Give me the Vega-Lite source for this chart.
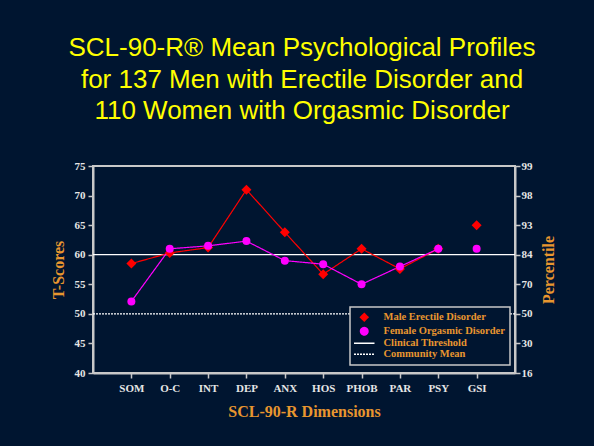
{
  "$schema": "https://vega.github.io/schema/vega-lite/v6.json",
  "width": 422,
  "height": 207,
  "autosize": {"type": "none"},
  "padding": {"left": 93, "top": 166, "right": 79, "bottom": 73},
  "background": "#001530",
  "title": {
    "text": ["SCL-90-R® Mean Psychological Profiles", "for 137 Men with Erectile Disorder and", "110 Women with Orgasmic Disorder"],
    "font": "Liberation Sans",
    "fontSize": 26,
    "fontWeight": "normal",
    "color": "#ffff00",
    "lineHeight": 31.5,
    "anchor": "middle",
    "dx": -2,
    "offset": 36
  },
  "datasets": {
    "profiles": [
      {"dim": "SOM", "series": "Male Erectile Disorder", "t": 58.5, "seg": "a"},
      {"dim": "O-C", "series": "Male Erectile Disorder", "t": 60.3, "seg": "a"},
      {"dim": "INT", "series": "Male Erectile Disorder", "t": 61.2, "seg": "a"},
      {"dim": "DEP", "series": "Male Erectile Disorder", "t": 71.0, "seg": "a"},
      {"dim": "ANX", "series": "Male Erectile Disorder", "t": 63.8, "seg": "a"},
      {"dim": "HOS", "series": "Male Erectile Disorder", "t": 56.7, "seg": "a"},
      {"dim": "PHOB", "series": "Male Erectile Disorder", "t": 61.0, "seg": "a"},
      {"dim": "PAR", "series": "Male Erectile Disorder", "t": 57.6, "seg": "a"},
      {"dim": "PSY", "series": "Male Erectile Disorder", "t": 61.0, "seg": "a"},
      {"dim": "GSI", "series": "Male Erectile Disorder", "t": 65.0, "seg": "b"},
      {"dim": "SOM", "series": "Female Orgasmic Disorder", "t": 52.1, "seg": "a"},
      {"dim": "O-C", "series": "Female Orgasmic Disorder", "t": 61.0, "seg": "a"},
      {"dim": "INT", "series": "Female Orgasmic Disorder", "t": 61.5, "seg": "a"},
      {"dim": "DEP", "series": "Female Orgasmic Disorder", "t": 62.3, "seg": "a"},
      {"dim": "ANX", "series": "Female Orgasmic Disorder", "t": 59.0, "seg": "a"},
      {"dim": "HOS", "series": "Female Orgasmic Disorder", "t": 58.4, "seg": "a"},
      {"dim": "PHOB", "series": "Female Orgasmic Disorder", "t": 55.0, "seg": "a"},
      {"dim": "PAR", "series": "Female Orgasmic Disorder", "t": 58.0, "seg": "a"},
      {"dim": "PSY", "series": "Female Orgasmic Disorder", "t": 61.0, "seg": "a"},
      {"dim": "GSI", "series": "Female Orgasmic Disorder", "t": 61.0, "seg": "b"}
    ],
    "refs": [
      {"series": "Clinical Threshold", "t": 60},
      {"series": "Community Mean", "t": 50}
    ]
  },
  "config": {
    "view": {"stroke": "#c8c8c8", "strokeWidth": 2},
    "axis": {
      "domainColor": "#c8c8c8",
      "domainWidth": 2,
      "tickColor": "#c8c8c8",
      "tickWidth": 1.5,
      "tickSize": 5,
      "grid": false,
      "labelOverlap": false,
      "labelFont": "Liberation Serif",
      "labelFontWeight": "bold",
      "labelFontSize": 11,
      "labelColor": "#e6e6e6",
      "titleFont": "Liberation Serif",
      "titleFontWeight": "bold",
      "titleFontSize": 16,
      "titleColor": "#e8962f"
    },
    "legend": {
      "orient": "none",
      "legendX": 257,
      "legendY": 141,
      "fillColor": "#001530",
      "strokeColor": "#c8c8c8",
      "strokeWidth": 1.5,
      "padding": 5,
      "rowPadding": 0,
      "symbolOffset": 4,
      "labelOffset": 14,
      "labelFont": "Liberation Serif",
      "labelFontWeight": "bold",
      "labelFontSize": 10.5,
      "labelColor": "#e8962f",
      "symbolStrokeWidth": 1.5
    }
  },
  "resolve": {"scale": {"y": "independent"}},
  "layer": [
    {
      "layer": [
        {
          "data": {"name": "refs"},
          "mark": {"type": "rule", "strokeWidth": 1.2},
          "encoding": {
            "y": {"field": "t", "type": "quantitative", "scale": {"domain": [40, 75]},
              "axis": {"title": "T-Scores", "values": [40, 45, 50, 55, 60, 65, 70, 75], "labelPadding": 3, "titlePadding": 8}},
            "color": {"field": "series", "type": "nominal",
              "scale": {"domain": ["Male Erectile Disorder", "Female Orgasmic Disorder", "Clinical Threshold", "Community Mean"],
                        "range": ["#ff0000", "#ff00ff", "#ffffff", "#ffffff"]},
              "legend": {"title": null, "symbolSize": {"expr": "datum.value == 'Clinical Threshold' || datum.value == 'Community Mean' ? 420 : 55"}}},
            "strokeDash": {"field": "series", "type": "nominal",
              "scale": {"domain": ["Male Erectile Disorder", "Female Orgasmic Disorder", "Clinical Threshold", "Community Mean"],
                        "range": [[1, 0], [1, 0], [1, 0], [2, 1]]},
              "legend": {"title": null}}
          }
        },
        {
          "data": {"name": "profiles"},
          "mark": {"type": "line", "strokeWidth": 1.2},
          "encoding": {
            "x": {"field": "dim", "type": "nominal",
              "scale": {"type": "point", "padding": 1, "domain": ["SOM", "O-C", "INT", "DEP", "ANX", "HOS", "PHOB", "PAR", "PSY", "GSI"]},
              "axis": {"title": "SCL-90-R Dimensions", "labelAngle": 0, "labelPadding": 4, "titlePadding": 10}},
            "y": {"field": "t", "type": "quantitative",
              "axis": {"title": "T-Scores", "values": [40, 45, 50, 55, 60, 65, 70, 75], "labelPadding": 3, "titlePadding": 8}},
            "detail": {"field": "seg"},
            "color": {"field": "series", "type": "nominal"},
            "strokeDash": {"field": "series", "type": "nominal"}
          }
        },
        {
          "data": {"name": "profiles"},
          "transform": [{"filter": "datum.series == 'Male Erectile Disorder'"}],
          "mark": {"type": "point", "filled": true, "opacity": 1, "size": 100},
          "encoding": {
            "x": {"field": "dim", "type": "nominal"},
            "y": {"field": "t", "type": "quantitative",
              "axis": {"title": "T-Scores", "values": [40, 45, 50, 55, 60, 65, 70, 75], "labelPadding": 3, "titlePadding": 8}},
            "color": {"field": "series", "type": "nominal"},
            "shape": {"field": "series", "type": "nominal",
              "scale": {"domain": ["Male Erectile Disorder", "Female Orgasmic Disorder", "Clinical Threshold", "Community Mean"],
                        "range": ["diamond", "circle", "stroke", "stroke"]},
              "legend": {"title": null}}
          }
        },
        {
          "data": {"name": "profiles"},
          "transform": [{"filter": "datum.series == 'Female Orgasmic Disorder'"}],
          "mark": {"type": "point", "filled": true, "opacity": 1, "size": 64},
          "encoding": {
            "x": {"field": "dim", "type": "nominal"},
            "y": {"field": "t", "type": "quantitative",
              "axis": {"title": "T-Scores", "values": [40, 45, 50, 55, 60, 65, 70, 75], "labelPadding": 3, "titlePadding": 8}},
            "color": {"field": "series", "type": "nominal"},
            "shape": {"field": "series", "type": "nominal"}
          }
        }
      ]
    },
    {
      "data": {"name": "refs"},
      "mark": {"type": "rule", "opacity": 0},
      "encoding": {
        "y": {"field": "t", "type": "quantitative", "scale": {"domain": [40, 75]},
          "axis": {"orient": "right", "title": "Percentile", "titleAngle": 270, "titlePadding": 24, "labelPadding": 1,
            "values": [40, 45, 50, 55, 60, 65, 70, 75],
            "labelExpr": "datum.value == 40 ? '16' : datum.value == 45 ? '30' : datum.value == 50 ? '50' : datum.value == 55 ? '70' : datum.value == 60 ? '84' : datum.value == 65 ? '93' : datum.value == 70 ? '98' : '99'"}}
      }
    }
  ]
}
